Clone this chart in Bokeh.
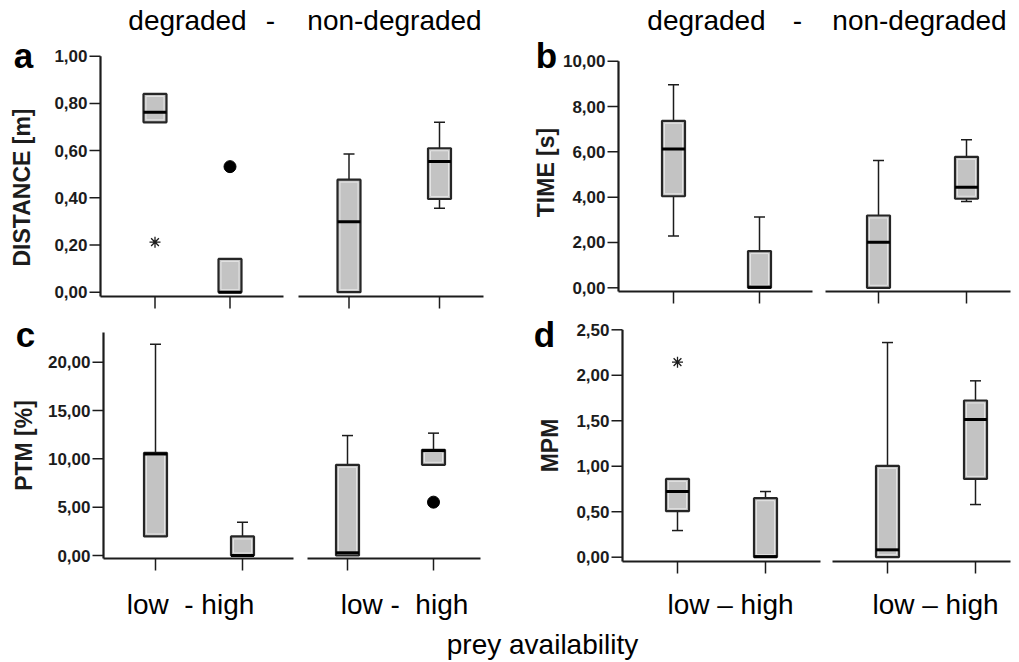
import numpy as np
from bokeh.plotting import figure
from bokeh.models import Range1d
from bokeh.embed import file_html
from bokeh.resources import INLINE
from bokeh.core.properties import value

# ---------------- data ----------------
groups = ["degraded-low", "degraded-high", "non-degraded-low", "non-degraded-high"]
header_labels = ["degraded", "-", "non-degraded"]
xlab_left = ["low \u00a0- high", "low - \u00a0high"]
xlab_right = ["low \u2013 high", "low \u2013 high"]
x_title = "prey availability"

# a) DISTANCE [m]
dist_lo = [0.72, 0.00, 0.00, 0.356]
dist_q1 = [0.72, 0.00, 0.00, 0.395]
dist_med = [0.763, 0.00, 0.299, 0.554]
dist_q3 = [0.84, 0.141, 0.477, 0.61]
dist_hi = [0.84, 0.141, 0.586, 0.72]
dist_circ_idx = [1]
dist_circ_val = [0.532]
dist_star_idx = [0]
dist_star_val = [0.212]

# b) TIME [s]
time_lo = [2.29, 0.00, 0.00, 3.81]
time_q1 = [4.04, 0.00, 0.00, 3.93]
time_med = [6.13, 0.03, 2.01, 4.44]
time_q3 = [7.37, 1.62, 3.19, 5.78]
time_hi = [8.96, 3.12, 5.62, 6.53]
time_circ_idx, time_circ_val = [], []
time_star_idx, time_star_val = [], []

# c) PTM [%]
ptm_lo = [1.97, 0.00, 0.00, 9.38]
ptm_q1 = [1.97, 0.00, 0.00, 9.38]
ptm_med = [10.5, 0.00, 0.28, 10.85]
ptm_q3 = [10.62, 1.97, 9.38, 10.93]
ptm_hi = [21.86, 3.45, 12.41, 12.66]
ptm_circ_idx = [3]
ptm_circ_val = [5.52]
ptm_star_idx, ptm_star_val = [], []

# d) MPM
mpm_lo = [0.293, 0.00, 0.00, 0.579]
mpm_q1 = [0.506, 0.00, 0.00, 0.861]
mpm_med = [0.722, 0.007, 0.081, 1.514]
mpm_q3 = [0.861, 0.649, 1.004, 1.723]
mpm_hi = [0.861, 0.722, 2.36, 1.939]
mpm_circ_idx, mpm_circ_val = [], []
mpm_star_idx = [0]
mpm_star_val = [2.144]

titles = {"a": "DISTANCE [m]", "b": "TIME [s]", "c": "PTM [%]", "d": "MPM"}
ticks_a = [0.0, 0.2, 0.4, 0.6, 0.8, 1.0]
ticklab_a = ["0,00", "0,20", "0,40", "0,60", "0,80", "1,00"]
ticks_b = [0, 2, 4, 6, 8, 10]
ticklab_b = ["0,00", "2,00", "4,00", "6,00", "8,00", "10,00"]
ticks_c = [0, 5, 10, 15, 20]
ticklab_c = ["0,00", "5,00", "10,00", "15,00", "20,00"]
ticks_d = [0.0, 0.5, 1.0, 1.5, 2.0, 2.5]
ticklab_d = ["0,00", "0,50", "1,00", "1,50", "2,00", "2,50"]

stats = {
    "a": (dist_lo, dist_q1, dist_med, dist_q3, dist_hi, dist_circ_idx, dist_circ_val, dist_star_idx, dist_star_val, ticks_a, ticklab_a),
    "b": (time_lo, time_q1, time_med, time_q3, time_hi, time_circ_idx, time_circ_val, time_star_idx, time_star_val, ticks_b, ticklab_b),
    "c": (ptm_lo, ptm_q1, ptm_med, ptm_q3, ptm_hi, ptm_circ_idx, ptm_circ_val, ptm_star_idx, ptm_star_val, ticks_c, ticklab_c),
    "d": (mpm_lo, mpm_q1, mpm_med, mpm_q3, mpm_hi, mpm_circ_idx, mpm_circ_val, mpm_star_idx, mpm_star_val, ticks_d, ticklab_d),
}

# ---------------- layout (pixels of the page) ----------------
X0, X1, Y0, Y1 = 0, 1019, 0, 662
layout = {
    "a": dict(axis_x=100, base_y=296, v0=0, p0=291.7, v1=1.0, p1=55.7, top=1.0,
              segs=[(100, 283), (298, 483)], ticks=[154.5, 229.5, 348.5, 439],
              letter=(23, 55), title=(21, 187)),
    "b": dict(axis_x=618, base_y=291, v0=0, p0=287.3, v1=10, p1=60.7, top=10,
              segs=[(618, 812), (825, 1010)], ticks=[673, 759, 878, 966],
              letter=(546, 55), title=(545, 172)),
    "c": dict(axis_x=103, base_y=558, v0=0, p0=555, v1=20, p1=361.7, top=23.07,
              segs=[(103, 293), (307, 480)], ticks=[155, 242, 347, 433],
              letter=(25, 334), title=(23, 445)),
    "d": dict(axis_x=622, base_y=561, v0=0, p0=556.7, v1=2.5, p1=329.3, top=2.5,
              segs=[(622, 820), (832, 1010)], ticks=[677, 765, 887, 975],
              letter=(544, 334), title=(549, 445)),
}
FONT = value("Liberation Sans")
INK = "#1c1c1c"
BOX_W = 23
BIG = "28px"

p = figure(width=X1 - X0, height=Y1 - Y0,
           x_range=Range1d(X0, X1), y_range=Range1d(Y1, Y0),
           x_axis_type=None, y_axis_type=None,
           toolbar_location=None, output_backend="svg",
           min_border=0, outline_line_color=None)
p.background_fill_color = "white"
p.border_fill_color = "white"


def yrng(L):
    k = (L["v1"] - L["v0"]) / (L["p1"] - L["p0"])
    return Range1d(L["v0"] + (Y1 - L["p0"]) * k, L["v0"] + (Y0 - L["p0"]) * k)


def xrng(px0, px1):
    k = 1.0 / (px1 - px0)
    return Range1d((X0 - px0) * k, (X1 - px0) * k)


def ypix(L, v):
    return L["p0"] + (v - L["v0"]) * (L["p1"] - L["p0"]) / (L["v1"] - L["v0"])


extra_y, extra_x = {}, {}
for key, L in layout.items():
    extra_y[key] = yrng(L)
    t = L["ticks"]
    extra_x[key + "L"] = xrng(t[0], t[1])
    extra_x[key + "R"] = xrng(t[2], t[3])
p.extra_y_ranges = extra_y
p.extra_x_ranges = extra_x

for key, L in layout.items():
    lo, q1, med, q3, hi, ci, cv, si, sv, tks, tkl = stats[key]
    # axes
    p.segment(x0=[L["axis_x"]], y0=[L["base_y"]], x1=[L["axis_x"]], y1=[ypix(L, L["top"])],
              line_color=INK, line_width=2.2)
    for (s0, s1) in L["segs"]:
        p.segment(x0=[s0], y0=[L["base_y"]], x1=[s1], y1=[L["base_y"]], line_color=INK, line_width=2.2)
    p.segment(x0=L["ticks"], y0=[L["base_y"]] * 4, x1=L["ticks"], y1=[L["base_y"] + 12] * 4,
              line_color=INK, line_width=1.5)
    n = len(tks)
    p.segment(x0=[L["axis_x"] - 11] * n, y0=tks, x1=[L["axis_x"]] * n, y1=tks,
              y_range_name=key, line_color=INK, line_width=1.5)
    p.text(x=[L["axis_x"] - 13] * n, y=tks, text=tkl, y_range_name=key,
           text_font=FONT, text_font_size="17px", text_font_style="bold",
           text_align="right", text_baseline="middle", text_color=INK)
    # titles and letters
    p.text(x=[L["title"][0]], y=[L["title"][1]], text=[titles[key]], angle=np.pi / 2,
           text_font=FONT, text_font_size="23px", text_font_style="bold",
           text_align="center", text_baseline="middle", text_color=INK)
    p.text(x=[L["letter"][0]], y=[L["letter"][1]], text=[key],
           text_font=FONT, text_font_size="35px", text_font_style="bold",
           text_align="center", text_baseline="middle", text_color="black")

    # boxes, two groups per panel
    for side, idxs in (("L", [0, 1]), ("R", [2, 3])):
        xr = key + side
        xs = [0, 1]
        bq1 = [q1[i] for i in idxs]
        bq3 = [q3[i] for i in idxs]
        bmed = [med[i] for i in idxs]
        # upper whiskers
        ux = [x for x, i in zip(xs, idxs) if hi[i] > q3[i]]
        if ux:
            uy0 = [q3[i] for i in idxs if hi[i] > q3[i]]
            uy1 = [hi[i] for i in idxs if hi[i] > q3[i]]
            p.segment(x0=ux, y0=uy0, x1=ux, y1=uy1, x_range_name=xr, y_range_name=key,
                      line_color=INK, line_width=1.5)
            p.scatter(x=ux, y=uy1, marker="dash", size=11, line_width=1.5, line_color=INK,
                      x_range_name=xr, y_range_name=key)
        lx = [x for x, i in zip(xs, idxs) if lo[i] < q1[i]]
        if lx:
            ly0 = [q1[i] for i in idxs if lo[i] < q1[i]]
            ly1 = [lo[i] for i in idxs if lo[i] < q1[i]]
            p.segment(x0=lx, y0=ly0, x1=lx, y1=ly1, x_range_name=xr, y_range_name=key,
                      line_color=INK, line_width=1.5)
            p.scatter(x=lx, y=ly1, marker="dash", size=11, line_width=1.5, line_color=INK,
                      x_range_name=xr, y_range_name=key)
        yc = [(a + b) / 2 for a, b in zip(bq1, bq3)]
        hgt = [b - a for a, b in zip(bq1, bq3)]
        p.rect(x=xs, y=yc, width=BOX_W, height=hgt, width_units="screen",
               fill_color="#c3c3c3", line_color="#262626", line_width=2.2,
               x_range_name=xr, y_range_name=key)
        # light inner highlight
        k = abs(L["p1"] - L["p0"]) / abs(L["v1"] - L["v0"])
        hpx = [max(h * k - 5, 0.1) for h in hgt]
        p.rect(x=xs, y=yc, width=BOX_W - 5, height=hpx, width_units="screen", height_units="screen",
               fill_color=None, line_color="#e4e4e4", line_width=1,
               x_range_name=xr, y_range_name=key)
        p.scatter(x=xs, y=bmed, marker="dash", size=BOX_W, line_width=3, line_color="black",
                  x_range_name=xr, y_range_name=key)
        # outliers
        cx = [i - idxs[0] for i in ci if i in idxs]
        cy = [v for i, v in zip(ci, cv) if i in idxs]
        if cx:
            p.scatter(x=cx, y=cy, marker="circle", size=12, fill_color="black", line_color="black",
                      x_range_name=xr, y_range_name=key)
        sx = [i - idxs[0] for i in si if i in idxs]
        sy = [v for i, v in zip(si, sv) if i in idxs]
        if sx:
            p.scatter(x=sx, y=sy, marker="asterisk", size=11, line_width=1.3, line_color=INK,
                      x_range_name=xr, y_range_name=key)

# headers
p.text(x=[187, 270, 394, 706, 797, 919], y=[20] * 6, text=header_labels * 2,
       text_font=FONT, text_font_size=BIG, text_align="center",
       text_baseline="middle", text_color="black")
# x labels
p.text(x=[190, 404], y=[604] * 2, text=xlab_left,
       text_font=FONT, text_font_size=BIG, text_align="center",
       text_baseline="middle", text_color="black")
p.text(x=[730, 935], y=[604] * 2, text=xlab_right,
       text_font=FONT, text_font_size=BIG, text_align="center",
       text_baseline="middle", text_color="black")
p.text(x=[542], y=[644], text=[x_title],
       text_font=FONT, text_font_size=BIG, text_align="center",
       text_baseline="middle", text_color="black")

open("out.html", "w").write(file_html(p, INLINE))
